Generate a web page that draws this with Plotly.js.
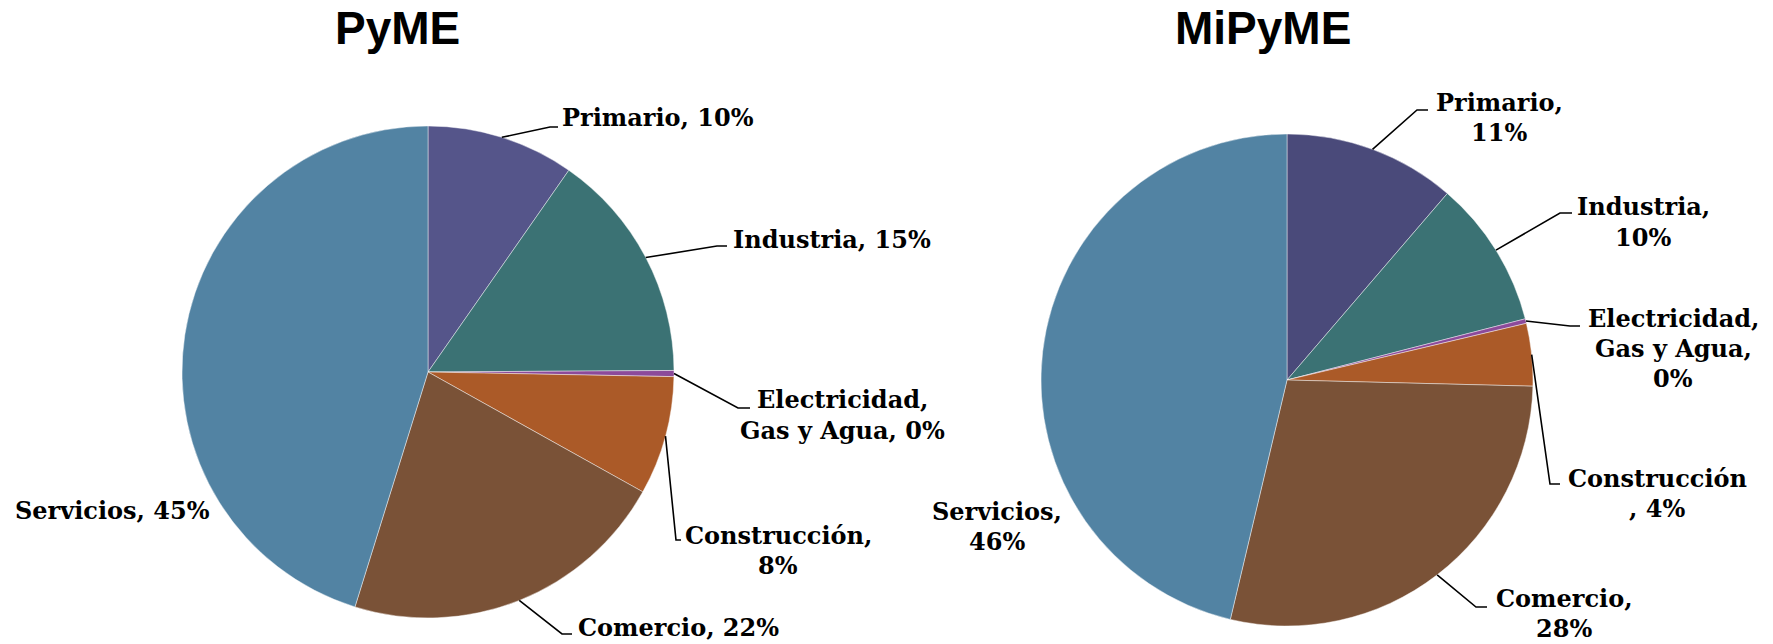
<!DOCTYPE html>
<html><head><meta charset="utf-8">
<script src="https://cdn.plot.ly/plotly-3.0.1.min.js"></script>
<style>html,body{margin:0;padding:0;background:#fff}#chart{width:1773px;height:644px}</style>
</head><body><div id="chart"></div>
<script>
const categories = ["Primario", "Industria", "Electricidad, Gas y Agua", "Construcción", "Comercio", "Servicios"];
const pymeValues = [9.7, 15.2, 0.4, 7.8, 21.7, 45.2];
const mipymeValues = [11.3, 9.7, 0.3, 4.1, 28.3, 46.3];
const pymeColors = ["#55558a", "#3b7274", "#8c4a9a", "#ab5a28", "#7a5237", "#5283a3"];
const mipymeColors = ["#4a4a7a", "#3b7274", "#8c4a9a", "#ab5a28", "#7a5237", "#5283a3"];
const chartTitles = ["PyME", "MiPyME"];

const W = 1773, H = 644;
const LINE = 30;
const pies = [
  {cx: 428, cy: 372, r: 246, tx: 397, ty: 28},
  {cx: 1287, cy: 380, r: 246, tx: 1263, ty: 28}
];
// label layout per pie / category: position (px), alignment, line break indices, leader elbow points
const labelLayout = [
  [
    {x: 560, y: 118, a: "left", br: [], ld: [[550, 127], [558, 127]]},
    {x: 731, y: 239, a: "left", br: [], ld: [[717, 246], [727, 246]]},
    {x: 842, y: 400, a: "center", br: [13], ld: [[738, 408], [750, 408]]},
    {x: 778, y: 535, a: "center", br: [13], ld: [[676, 540], [681, 540]]},
    {x: 576, y: 627, a: "left", br: [], ld: [[562, 634], [572, 634]]},
    {x: 13, y: 510, a: "left", br: [], ld: null}
  ],
  [
    {x: 1499, y: 102, a: "center", br: [9], ld: [[1417, 110], [1428, 110]]},
    {x: 1643, y: 207, a: "center", br: [10], ld: [[1560, 213], [1572, 213]]},
    {x: 1673, y: 318, a: "center", br: [13, 25], ld: [[1570, 326], [1580, 326]]},
    {x: 1657, y: 478, a: "center", br: [12], ld: [[1550, 484], [1560, 484]]},
    {x: 1564, y: 598, a: "center", br: [9], ld: [[1476, 607], [1487, 607]]},
    {x: 997, y: 511, a: "center", br: [10], ld: null}
  ]
];

const px = x => x / W;
const py = y => 1 - y / H;

const series = [pymeValues, mipymeValues];
const colors = [pymeColors, mipymeColors];
const traces = [], annotations = [], shapes = [];
const labelFont = {family: "DejaVu Serif, Georgia, serif", size: 24, color: "#000", weight: 700};

series.forEach((vals, k) => {
  const p = pies[k];
  traces.push({
    type: "pie", values: vals, labels: categories, sort: false, direction: "clockwise", rotation: 0,
    textinfo: "none", hoverinfo: "label+percent", showlegend: false,
    marker: {colors: colors[k], line: {color: "rgba(255,255,255,0.55)", width: 0.8}},
    domain: {x: [px(p.cx - p.r), px(p.cx + p.r)], y: [py(p.cy + p.r), py(p.cy - p.r)]}
  });
  annotations.push({
    text: chartTitles[k], x: px(p.tx), y: py(p.ty), xref: "paper", yref: "paper",
    xanchor: "center", yanchor: "middle", showarrow: false,
    font: {family: "Liberation Sans, Arial, sans-serif", size: 46, color: "#000", weight: 700}
  });
  const total = vals.reduce((s, v) => s + v, 0);
  let cum = 0;
  vals.forEach((v, i) => {
    const th = 2 * Math.PI * (cum + v / 2) / total;
    cum += v;
    const L = labelLayout[k][i];
    const full = categories[i] + ", " + Math.round(v) + "%";
    const pieces = [];
    let prev = 0;
    L.br.forEach(b => { pieces.push(full.slice(prev, b).trim()); prev = b; });
    pieces.push(full.slice(prev).trim());
    pieces.forEach((t, j) => {
      annotations.push({
        text: t, x: px(L.x), y: py(L.y + j * LINE), xref: "paper", yref: "paper",
        xanchor: L.a, yanchor: "middle", showarrow: false, font: labelFont
      });
    });
    if (L.ld) {
      const ax = p.cx + p.r * Math.sin(th), ay = p.cy - p.r * Math.cos(th);
      const pts = [[ax, ay]].concat(L.ld);
      shapes.push({
        type: "path", xref: "paper", yref: "paper",
        path: pts.map((q, j) => (j ? "L" : "M") + px(q[0]) + "," + py(q[1])).join(" "),
        line: {color: "#000", width: 1.6}
      });
    }
  });
});

Plotly.newPlot("chart", traces, {
  width: W, height: H, margin: {l: 0, r: 0, t: 0, b: 0},
  paper_bgcolor: "#fff", plot_bgcolor: "#fff",
  annotations: annotations, shapes: shapes
}, {displayModeBar: false, staticPlot: true});
</script>
</body></html>
